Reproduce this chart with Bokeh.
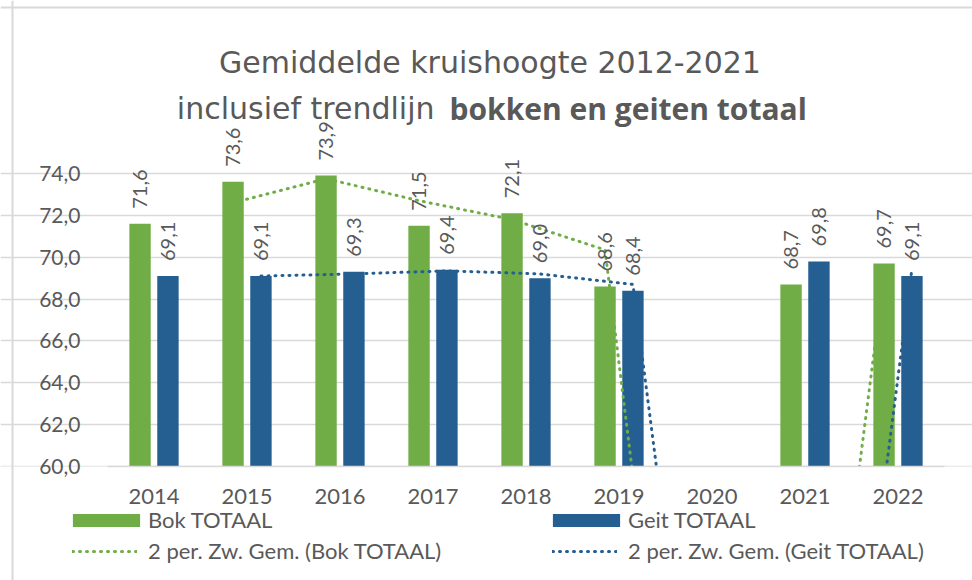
import math
from bokeh.plotting import figure
from bokeh.models import (Range1d, FixedTicker, Legend, LegendItem, Label, ColumnDataSource, Span)
from bokeh.transform import dodge
from bokeh.core.properties import value
from bokeh.embed import file_html
from bokeh.resources import INLINE

# ---- data ----
years = ["2014", "2015", "2016", "2017", "2018", "2019", "2020", "2021", "2022"]
bok = [71.6, 73.6, 73.9, 71.5, 72.1, 68.6, float("nan"), 68.7, 69.7]
geit = [69.1, 69.1, 69.3, 69.4, 69.0, 68.4, float("nan"), 69.8, 69.1]
# 2-period moving average trendlines (as drawn in the reference)
bok_ma = [float("nan"), 72.6, 73.75, 72.7, 71.8, 70.35, 34.3, 34.35, 69.2]
geit_ma = [float("nan"), 69.1, 69.2, 69.35, 69.2, 68.7, 34.2, 34.9, 69.45]
y_ticks = [60, 62, 64, 66, 68, 70, 72, 74]

GREEN = "#70AD47"
BLUE = "#255E91"
TXT = "#595959"
GRID = "#D9D9D9"
FONT = "Lato"

# ---- layout (pixels) ----
W_PX, H_PX = 972, 580
PLOT_L, PLOT_R = 107, 944      # x of plot area edges
Y_TOP_PX, Y_BOT_PX = 173, 466  # pixel rows of 74 and 60
PXX = (PLOT_R - PLOT_L) / len(years)
PXY = (Y_BOT_PX - Y_TOP_PX) / (y_ticks[-1] - y_ticks[0])
X0 = -0.5 - PLOT_L / PXX
X1 = len(years) - 0.5 + (W_PX - PLOT_R) / PXX
Y1 = y_ticks[-1] + Y_TOP_PX / PXY
Y0 = y_ticks[0] - (H_PX - Y_BOT_PX) / PXY


def fmt(v):
    return "" if v != v else f"{v:.1f}".replace(".", ",")


src = ColumnDataSource(dict(
    x=list(range(len(years))),
    bok=bok, geit=geit, bok_ma=bok_ma, geit_ma=geit_ma,
    bok_lbl=[fmt(v) for v in bok], geit_lbl=[fmt(v) for v in geit],
))

p = figure(width=W_PX, height=H_PX, x_range=Range1d(X0, X1), y_range=Range1d(Y0, Y1),
           output_backend="svg", toolbar_location=None,
           min_border=0, min_border_left=0, min_border_right=0,
           min_border_top=0, min_border_bottom=0)
p.background_fill_color = "white"
p.border_fill_color = "white"
p.outline_line_color = None

OFF = 0.15
BW = 0.23
r_bok = p.vbar(x=dodge("x", -OFF), top="bok", bottom=y_ticks[0], width=BW, source=src,
               fill_color=GREEN, line_color=None)
r_geit = p.vbar(x=dodge("x", OFF), top="geit", bottom=y_ticks[0], width=BW, source=src,
                fill_color=BLUE, line_color=None)

r_bok_ma = p.line(x=dodge("x", -OFF), y="bok_ma", source=src, line_color=GREEN,
                  line_width=3, line_dash="1 6", line_cap="round")
r_geit_ma = p.line(x=dodge("x", OFF), y="geit_ma", source=src, line_color=BLUE,
                   line_width=3, line_dash="1 6", line_cap="round")

# white mask below the value axis minimum (plot area clipping, as in the reference)
p.quad(left=X0, right=X1, bottom=Y0, top=y_ticks[0], fill_color="white", line_color=None)

for col, lbl, off in (("bok", "bok_lbl", -OFF), ("geit", "geit_lbl", OFF)):
    p.text(x=dodge("x", off), y=col, text=lbl, source=src, angle=math.pi / 2,
           text_align="left", text_baseline="middle", y_offset=-15,
           text_font=value(FONT), text_font_size="20px", text_color=TXT)

# axes (placed inside the full-canvas frame)
p.xaxis.fixed_location = y_ticks[0]
p.yaxis.fixed_location = -0.5
p.xaxis.ticker = FixedTicker(ticks=list(range(len(years))))
p.xaxis.major_label_overrides = {i: y for i, y in enumerate(years)}
p.yaxis.ticker = FixedTicker(ticks=y_ticks)
p.yaxis.major_label_overrides = {t: fmt(t) for t in y_ticks}
for ax in (p.xaxis, p.yaxis):
    ax.major_tick_line_color = None
    ax.minor_tick_line_color = None
    ax.major_label_text_font = FONT
    ax.major_label_text_color = TXT
p.xaxis.major_label_text_font_size = "22px"
p.yaxis.major_label_text_font_size = "21px"
p.xaxis.bounds = (-0.5, len(years) - 0.5)
p.xaxis.axis_line_color = GRID
p.xaxis.axis_line_width = 1.5
p.yaxis.axis_line_color = None
p.xaxis.major_label_standoff = 16
p.yaxis.major_label_standoff = 21
p.xgrid.visible = False
p.ygrid.grid_line_color = GRID
p.ygrid.grid_line_width = 1.5
p.ygrid.bounds = (-0.5, len(years) - 0.5)

# chart-area border (top and left, as in the reference)
p.add_layout(Span(location=Y1 - 7 / PXY, dimension="width", line_color=GRID, line_width=2))
p.add_layout(Span(location=X0 + 12 / PXX, dimension="height", line_color=GRID, line_width=2))

# title (screen units measured from the bottom-left of the canvas)
p.add_layout(Label(x=489.5, y=H_PX - 62, x_units="screen", y_units="screen",
                   text="Gemiddelde kruishoogte 2012-2021", text_align="center",
                   text_baseline="alphabetic", text_font="DejaVu Sans", text_font_size="30px",
                   text_color=TXT))
p.add_layout(Label(x=434, y=H_PX - 108, x_units="screen", y_units="screen",
                   text="inclusief trendlijn", text_align="right",
                   text_baseline="alphabetic", text_font="DejaVu Sans", text_font_size="30px",
                   text_color=TXT))
p.add_layout(Label(x=449, y=H_PX - 108, x_units="screen", y_units="screen",
                   text="bokken en geiten totaal", text_align="left",
                   text_baseline="alphabetic", text_font="Open Sans", text_font_size="30px",
                   text_font_style="bold", text_color=TXT))


# legends
def make_legend(item, loc, gw, gh, standoff):
    lg = Legend(items=[item], location=loc, orientation="vertical",
                glyph_width=gw, glyph_height=gh, label_standoff=standoff, label_height=24,
                spacing=0, padding=0, margin=0, border_line_color=None,
                background_fill_alpha=0, label_text_font=FONT,
                label_text_font_size="22px", label_text_color=TXT)
    p.add_layout(lg, "center")


make_legend(LegendItem(label="Bok TOTAAL", renderers=[r_bok]), (64, 47), 84, 16, 0)
make_legend(LegendItem(label="Geit TOTAAL", renderers=[r_geit]), (544, 47), 84, 16, 0)
make_legend(LegendItem(label="2 per. Zw. Gem. (Bok TOTAAL)", renderers=[r_bok_ma]), (72, 16), 65, 16, 11)
make_legend(LegendItem(label="2 per. Zw. Gem. (Geit TOTAAL)", renderers=[r_geit_ma]), (552, 16), 65, 16, 11)

open("out.html", "w").write(file_html(p, INLINE))
